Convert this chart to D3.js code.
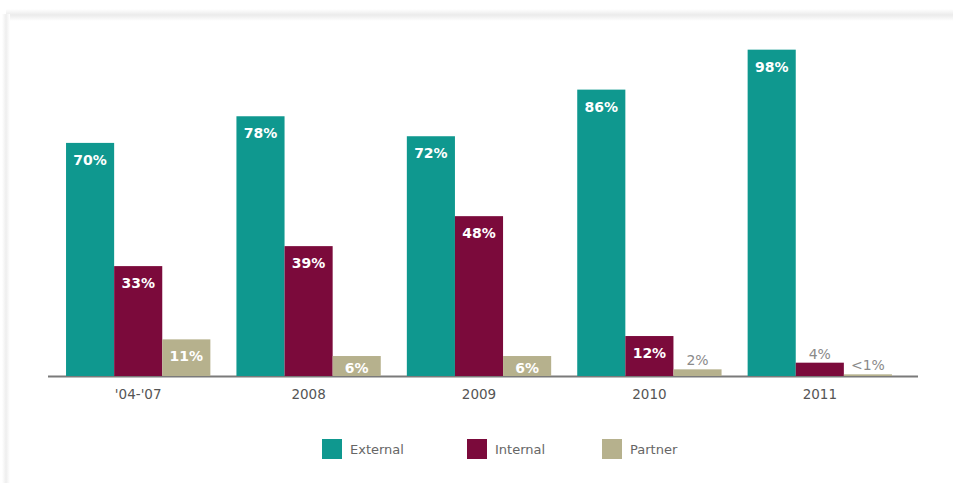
<!DOCTYPE html>
<html>
<head>
<meta charset="utf-8">
<script src="https://cdn.jsdelivr.net/npm/d3@7"></script>
<style>
  html, body { margin: 0; padding: 0; background: #fff; }
  svg { display: block; }
</style>
</head>
<body>
<svg id="chart" width="953" height="483"></svg>
<script>
const categories = ["'04-'07", "2008", "2009", "2010", "2011"];
const seriesNames = ["External", "Internal", "Partner"];
const externalValues = [70, 78, 72, 86, 98];
const internalValues = [33, 39, 48, 12, 4];
const partnerValues = [11, 6, 6, 2, 0.5];
const partnerLabels = ["11%", "6%", "6%", "2%", "<1%"];
const colors = ["#0f988f", "#7b0a3b", "#b6b18d"];

const seriesValues = [externalValues, internalValues, partnerValues];
const labelFor = (s, i) => s === 2 ? partnerLabels[i] : seriesValues[s][i] + "%";

const svg = d3.select("#chart");
const W = 953, H = 483;

// frame / shadow decoration
const defs = svg.append("defs");
const g1 = defs.append("linearGradient").attr("id", "topShadow").attr("x1", 0).attr("y1", 0).attr("x2", 0).attr("y2", 1);
g1.append("stop").attr("offset", "0").attr("stop-color", "#ffffff");
g1.append("stop").attr("offset", "0.5").attr("stop-color", "#ebebeb");
g1.append("stop").attr("offset", "1").attr("stop-color", "#ffffff");
svg.append("rect").attr("x", 6).attr("y", 9).attr("width", W - 6).attr("height", 12).attr("fill", "url(#topShadow)");
const g2 = defs.append("linearGradient").attr("id", "leftShadow").attr("x1", 0).attr("y1", 0).attr("x2", 1).attr("y2", 0);
g2.append("stop").attr("offset", "0").attr("stop-color", "#ffffff");
g2.append("stop").attr("offset", "0.5").attr("stop-color", "#eeeeee");
g2.append("stop").attr("offset", "1").attr("stop-color", "#ffffff");
svg.append("rect").attr("x", 2).attr("y", 14).attr("width", 8).attr("height", H - 14).attr("fill", "url(#leftShadow)");

const baseY = 376;
const x0 = d3.scaleBand().domain(categories).range([53, 905]).paddingInner(0.153).paddingOuter(0.0765);
const x1 = d3.scaleBand().domain(d3.range(3)).range([0, x0.bandwidth()]);
const y = d3.scaleLinear().domain([0, 100]).range([baseY, 43]);

const font = "'DejaVu Sans', sans-serif";

// axis line
svg.append("line").attr("x1", 48).attr("x2", 918).attr("y1", baseY + 0.5).attr("y2", baseY + 0.5)
  .attr("stroke", "#7a7a7a").attr("stroke-width", 2);

const groups = svg.selectAll("g.grp").data(categories).join("g")
  .attr("class", "grp").attr("transform", d => `translate(${x0(d)},0)`);

groups.each(function(cat, i) {
  const g = d3.select(this);
  for (let s = 0; s < 3; s++) {
    const v = seriesValues[s][i];
    const bx = x1(s), bw = x1.bandwidth();
    const top = y(v);
    g.append("rect").attr("x", bx).attr("y", top).attr("width", bw).attr("height", baseY - top)
      .attr("fill", colors[s]);
    const inside = v >= 6;
    g.append("text")
      .attr("x", bx + bw / 2)
      .attr("y", inside ? Math.min(top + 22, baseY - 3) : top - 4)
      .attr("text-anchor", "middle")
      .attr("font-family", font)
      .attr("font-size", inside ? 14 : 14)
      .attr("font-weight", inside ? "bold" : "normal")
      .attr("fill", inside ? "#ffffff" : "#8a8a8a")
      .text(labelFor(s, i));
  }
});

// category axis labels
const xAxis = d3.axisBottom(x0).tickSize(0).tickPadding(0);
const ax = svg.append("g").attr("transform", `translate(0,${baseY + 11})`).call(xAxis);
ax.select(".domain").remove();
ax.selectAll("text").attr("font-family", font).attr("font-size", 13.5)
  .attr("fill", "#555").attr("dy", "0.9em");

// legend
const legendX = [322, 467, 602];
const legend = svg.selectAll("g.leg").data(seriesNames).join("g")
  .attr("class", "leg").attr("transform", (d, i) => `translate(${legendX[i]},439)`);
legend.append("rect").attr("width", 20).attr("height", 20).attr("fill", (d, i) => colors[i]);
legend.append("text").attr("x", 28).attr("y", 15).attr("font-family", font).attr("font-size", 13)
  .attr("fill", "#666").text(d => d);
</script>
</body>
</html>
